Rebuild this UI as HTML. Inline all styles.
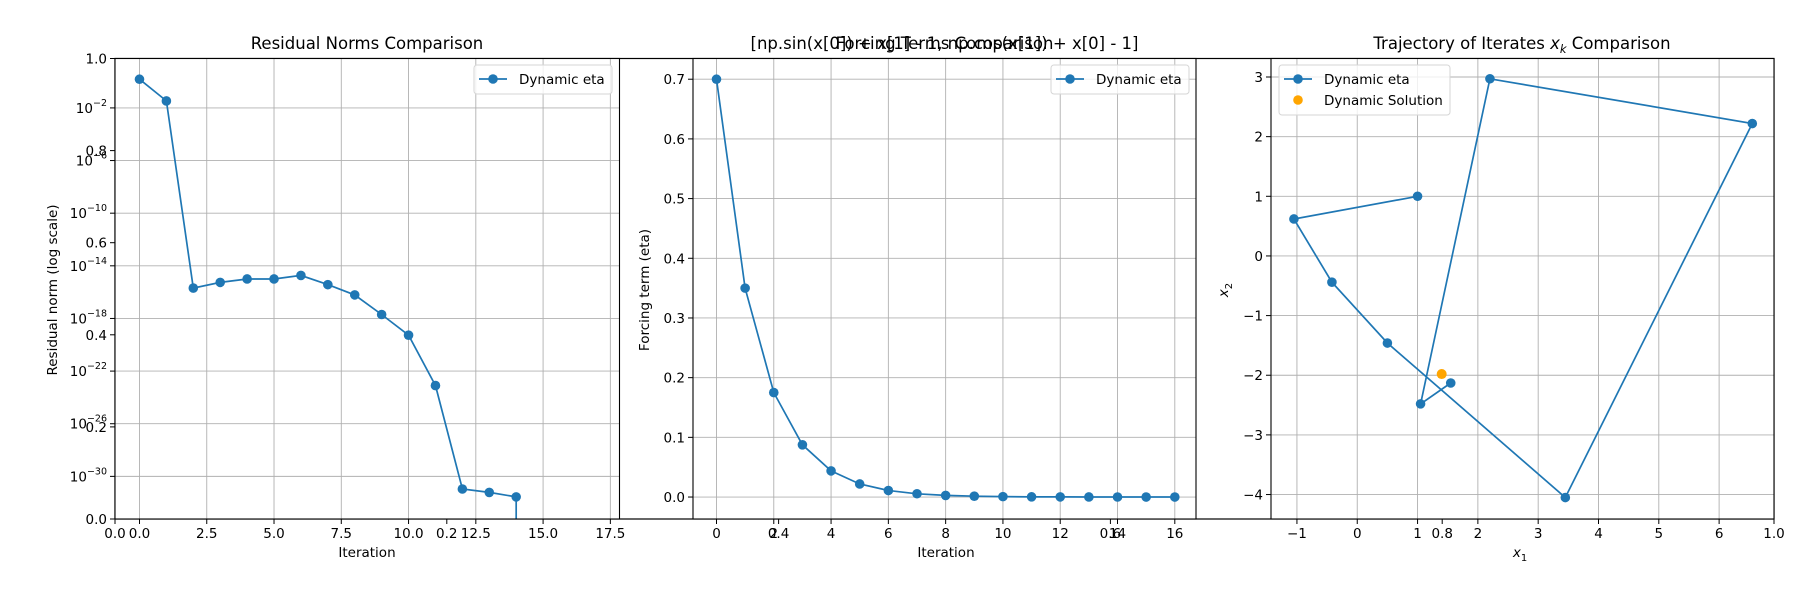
<!DOCTYPE html>
<html><head><meta charset="utf-8"><style>
body{margin:0;background:#fff;}
svg{display:block;font-family:"DejaVu Sans","Liberation Sans",sans-serif;}
</style></head><body>
<svg id="fig" width="1800" height="600" viewBox="0 0 1800 600" xmlns="http://www.w3.org/2000/svg"></svg>
<script>
// ---- data ----
const residIter = [0,1,2,3,4,5,6,7,8,9,10,11,12,13,14];
const residLog10 = [0.18,-1.47,-15.69,-15.26,-15.0,-15.0,-14.73,-15.43,-16.21,-17.7,-19.27,-23.1,-30.96,-31.22,-31.56];
const residXTicks = [0,2.5,5,7.5,10,12.5,15,17.5];
const residYTickExps = [-2,-6,-10,-14,-18,-22,-26,-30];
const etaIter = [0,1,2,3,4,5,6,7,8,9,10,11,12,13,14,15,16];
const etaValues = [0.7,0.35,0.175,0.0875,0.0438,0.0219,0.0109,0.0055,0.0027,0.0014,0.0007,0.0003,0.0002,0.0001,0.00005,0.00002,0.00001];
const etaXTicks = [0,2,4,6,8,10,12,14,16];
const etaYTicks = [0,0.1,0.2,0.3,0.4,0.5,0.6,0.7];
const trajX1 = [1,-1.05,-0.42,0.5,3.45,6.55,2.2,1.05,1.55];
const trajX2 = [1,0.62,-0.44,-1.46,-4.05,2.22,2.97,-2.48,-2.13];
const solX1 = [1.4];
const solX2 = [-1.98];
const trajXTicks = [-1,0,1,2,3,4,5,6];
const trajYTicks = [-4,-3,-2,-1,0,1,2,3];
const bgTicks = [0,0.2,0.4,0.6,0.8,1.0];
const bgTickLabels = ["0.0","0.2","0.4","0.6","0.8","1.0"];

const svg = document.getElementById('fig');
const NS = 'http://www.w3.org/2000/svg';
const BLUE = '#1f77b4', TOP = 58.5, BOT = 519;
function mk(tag, attrs, parent, text){
  const e = document.createElementNS(NS, tag);
  for (const k in attrs) e.setAttribute(k, attrs[k]);
  if (text !== undefined) e.textContent = text;
  (parent || svg).appendChild(e);
  return e;
}
function lin(d0,d1,r0,r1){ return v => r0 + (v-d0)/(d1-d0)*(r1-r0); }

// background axes
const bgX = lin(0,1,115,1774), bgY = lin(0,1,BOT,TOP);
const bg = mk('g',{});


mk('rect',{x:115,y:TOP,width:1659,height:BOT-TOP,fill:'#fff',stroke:'#000','stroke-width':1.2},bg);
bgTicks.forEach((t,i)=>{
  const x = bgX(t), y = bgY(t);
  mk('line',{x1:x,x2:x,y1:BOT,y2:BOT+5,stroke:'#000'},bg);
  const lx = mk('text',{x:x,y:BOT+19,'font-size':13.5,'text-anchor':'middle'},bg,bgTickLabels[i]);
  
  
  mk('line',{x1:115,x2:110,y1:y,y2:y,stroke:'#000'},bg);
  const ly = mk('text',{x:107,y:y+5,'font-size':13.5,'text-anchor':'end'},bg,bgTickLabels[i]);
  
  
});
const bgt = mk('text',{x:944.5,y:49,'font-size':16.5,'text-anchor':'middle'},bg,'[np.sin(x[0]) + x[1] - 1, np.cos(x[1]) + x[0] - 1]');



function panel(name,L,R,sx,sy,xticks,xlabels,yticks,ylabels){
  const g = mk('g',{});
  
  
  mk('rect',{x:L,y:TOP,width:R-L,height:BOT-TOP,fill:'#fff'},g);
  xticks.forEach((t,i)=>{
    const x = sx(t);
    mk('line',{x1:x,x2:x,y1:TOP,y2:BOT,stroke:'#b0b0b0','stroke-width':0.9},g);
    mk('line',{x1:x,x2:x,y1:BOT,y2:BOT+5,stroke:'#000'},g);
    const tl = mk('text',{x:x,y:BOT+19,'font-size':13.5,'text-anchor':'middle'},g,xlabels[i]);
    
    
  });
  yticks.forEach((t,i)=>{
    const y = sy(t);
    mk('line',{x1:L,x2:R,y1:y,y2:y,stroke:'#b0b0b0','stroke-width':0.9},g);
    mk('line',{x1:L,x2:L-5,y1:y,y2:y,stroke:'#000'},g);
    const tl = mk('text',{x:L-8,y:y+5,'font-size':13.5,'text-anchor':'end'},g,'');
    
    
    if (Array.isArray(ylabels[i])) {
      tl.textContent = ylabels[i][0];
      mk('tspan',{dy:-7,'font-size':9.5},tl,ylabels[i][1]);
    } else tl.textContent = ylabels[i];
  });
  return g;
}
function series(g,sx,sy,xs,ys,color,name){
  const pts = xs.map((x,i)=>sx(x).toFixed(1)+','+sy(ys[i]).toFixed(1)).join(' ');
  const pl = mk('polyline',{points:pts,fill:'none',stroke:color,'stroke-width':1.7},g);
  
  
  xs.forEach((x,i)=>{
    const c = mk('circle',{cx:sx(x),cy:sy(ys[i]),r:4.8,fill:color},g);
    
    
  });
}
function frame(g,L,R){ mk('rect',{x:L,y:TOP,width:R-L,height:BOT-TOP,fill:'none',stroke:'#000','stroke-width':1.1},g); }
function legend(g,x,y,w,entries){
  const lg = mk('g',{},g);
  
  
  mk('rect',{x:x,y:y,width:w,height:8+entries.length*21,rx:3,fill:'#fff','fill-opacity':0.8,stroke:'#d6d6d6'},lg);
  entries.forEach((e,i)=>{
    const cy = y+14+i*21;
    if (e.line) mk('line',{x1:x+5,x2:x+33,y1:cy,y2:cy,stroke:e.color,'stroke-width':1.7},lg);
    mk('circle',{cx:x+19,cy:cy,r:4.8,fill:e.color},lg);
    const t = mk('text',{x:x+45,y:cy+5,'font-size':13.5},lg,e.label);
    
    
  });
}
function text(x,y,s,name,extra){
  const t = mk('text',Object.assign({x:x,y:y,'font-size':13.5,'text-anchor':'middle'},extra||{}),svg,s);
  
  
  return t;
}

// ---- panel 1: residuals ----
{
  const L=115,R=619.5, sx=lin(-0.91,17.84,L,R), sy=lin(-33.24,1.755,BOT,TOP);
  const g = panel('residual-panel',L,R,sx,sy,residXTicks,residXTicks.map(v=>v.toFixed(1)),residYTickExps,residYTickExps.map(e=>['10','\u2212'+(-e)]));
  series(g,sx,sy,residIter,residLog10,BLUE,'residual');
  const last = residIter.length-1;
  mk('line',{x1:sx(residIter[last]),x2:sx(residIter[last]),y1:sy(residLog10[last]),y2:BOT,stroke:BLUE,'stroke-width':1.7},g);
  frame(g,L,R);
  legend(g,474,65,138,[{label:'Dynamic eta',color:BLUE,line:true}]);
  text(367,49,'Residual Norms Comparison','residual-title',{'font-size':16.5});
  text(367,557,'Iteration','residual-x-label');
  text(57,290,'Residual norm (log scale)','residual-y-label',{transform:'rotate(-90 57 290)'});
}
// ---- panel 2: eta ----
{
  const L=693,R=1196, sx=lin(-0.82,16.74,L,R), sy=lin(-0.0368,0.7347,BOT,TOP);
  const g = panel('eta-panel',L,R,sx,sy,etaXTicks,etaXTicks.map(String),etaYTicks,etaYTicks.map(v=>v.toFixed(1)));
  series(g,sx,sy,etaIter,etaValues,BLUE,'eta');
  frame(g,L,R);
  legend(g,1051,65,138,[{label:'Dynamic eta',color:BLUE,line:true}]);
  text(944.5,49,'Forcing Terms Comparison','eta-title',{'font-size':16.5});
  text(946,557,'Iteration','eta-x-label');
  text(649,290,'Forcing term (eta)','eta-y-label',{transform:'rotate(-90 649 290)'});
}
// ---- panel 3: trajectory ----
{
  const L=1271,R=1774, sx=lin(-1.43,6.91,L,R), sy=lin(-4.41,3.31,BOT,TOP);
  const g = panel('trajectory-panel',L,R,sx,sy,trajXTicks,trajXTicks.map(v=>v<0?'\u2212'+(-v):String(v)),trajYTicks,trajYTicks.map(v=>v<0?'\u2212'+(-v):String(v)));
  series(g,sx,sy,trajX1,trajX2,BLUE,'trajectory');
  solX1.forEach((x,i)=>{
    const c = mk('circle',{cx:sx(x),cy:sy(solX2[i]),r:5,fill:'#ffa500'},g);
    
    
  });
  frame(g,L,R);
  legend(g,1279,65,171,[{label:'Dynamic eta',color:BLUE,line:true},{label:'Dynamic Solution',color:'#ffa500',line:false}]);
  const t = text(1522,49,'Trajectory of Iterates ','trajectory-title',{'font-size':16.5});
  mk('tspan',{'font-style':'italic'},t,'x');
  mk('tspan',{dy:4,'font-size':11.5,'font-style':'italic'},t,'k');
  mk('tspan',{dy:-4},t,' Comparison');
  const xl = text(1520,557,'x','trajectory-x-label',{'font-style':'italic'});
  mk('tspan',{dy:4,'font-size':10,'font-style':'normal'},xl,'1');
  const yl = text(1228,290,'x','trajectory-y-label',{'font-style':'italic',transform:'rotate(-90 1228 290)'});
  mk('tspan',{dy:4,'font-size':10,'font-style':'normal'},yl,'2');
}
</script>
</body></html>
